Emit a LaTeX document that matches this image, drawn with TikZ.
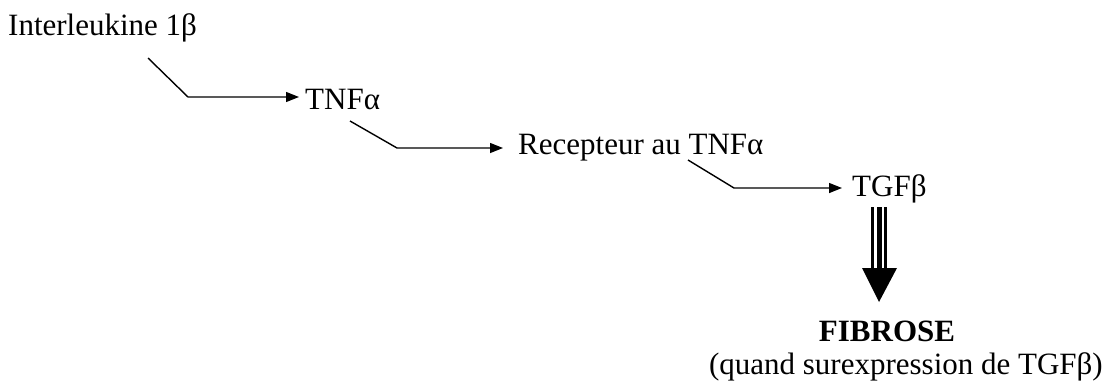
\documentclass[tikz,border=0pt]{standalone}
\usepackage{fontspec}
\setmainfont{Liberation Serif}
\usetikzlibrary{arrows.meta}
\tikzset{
  lbl/.style={inner sep=0pt, anchor=west, font=\fontsize{31}{37}\selectfont},
  link/.style={line width=1.4pt, -{Triangle[length=13pt,width=10pt]}},
}
\begin{document}
\begin{tikzpicture}[x=1pt,y=-1pt]
  \useasboundingbox (0,0) rectangle (1108,383);

  % pathway labels
  \node[lbl] (il)  at (8,28)    {Interleukine 1β};
  \node[lbl] (tnf) at (305,99)  {TNFα};
  \node[lbl] (rec) at (518,148) {Recepteur au TNFα};
  \node[lbl] (tgf) at (852,189) {TGFβ};
  \node[inner sep=0pt, font=\fontsize{31}{37}\selectfont\bfseries] (fib) at (887,331) {FIBROSE};
  \node[inner sep=0pt, anchor=east, font=\fontsize{31}{37}\selectfont] (note) at (1103,367) {(quand surexpression de TGFβ)};

  % bent connectors
  \coordinate (k1a) at (148,58);  \coordinate (k1b) at (188,97);
  \coordinate (k2a) at (350,121); \coordinate (k2b) at (397,148);
  \coordinate (k3a) at (688,160); \coordinate (k3b) at (734,188);
  \draw[link] (k1a) -- (k1b) -- ([xshift=-6pt]tnf.west |- k1b);
  \draw[link] (k2a) -- (k2b) -- ([xshift=-15pt]rec.west |- k2b);
  \draw[link] (k3a) -- (k3b) -- ([xshift=-10pt]tgf.west |- k3b);

  % triple-shafted arrow down to FIBROSE
  \coordinate (tip) at (879,302);
  \draw[line width=3pt]   (872.5,207) -- (872.5,270);
  \draw[line width=4.5pt] (879.5,207) -- (879.5,270);
  \draw[line width=3pt]   (885.5,207) -- (885.5,270);
  \fill (tip) -- (862,268) -- (897,268) -- cycle;
\end{tikzpicture}
\end{document}
